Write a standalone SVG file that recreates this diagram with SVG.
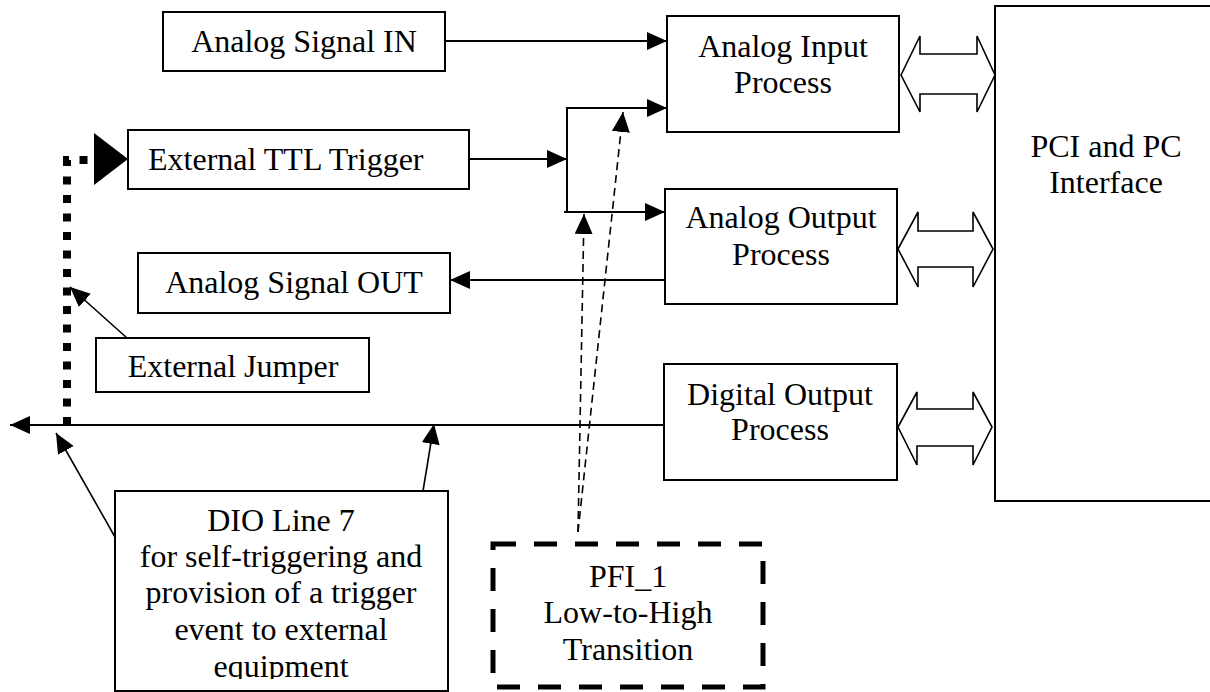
<svg xmlns="http://www.w3.org/2000/svg" width="1210" height="692" viewBox="0 0 1210 692">
  <defs>
    <style>
      .box { fill: #fff; stroke: #000; stroke-width: 2; }
      .dashbox { fill: #fff; stroke: #000; stroke-width: 5; stroke-dasharray: 23 18; }
      .lbl { font-family: "Liberation Serif", "Times New Roman", serif; font-size: 32px; fill: #000; }
      .mid { text-anchor: middle; }
      .wire { fill: none; stroke: #000; stroke-width: 2; }
      .thin { fill: none; stroke: #000; stroke-width: 1.6; }
      .dash { fill: none; stroke: #000; stroke-width: 1.6; stroke-dasharray: 8 5; }
      .dots { fill: none; stroke: #000; stroke-width: 8; stroke-dasharray: 8 10.5; }
      .bus { fill: #fff; stroke: #000; stroke-width: 1.6; stroke-linejoin: miter; }
    </style>
    <marker id="arr" markerUnits="userSpaceOnUse" markerWidth="22" markerHeight="20" refX="20" refY="9" orient="auto">
      <path d="M0,0 L20,9 L0,18 z" fill="#000"/>
    </marker>
    <clipPath id="dioClip">
      <rect x="115" y="491" width="333" height="188"/>
    </clipPath>
  </defs>

  <!-- connectors -->
  <g id="connectors">
    <path class="wire" d="M445,41 H667" marker-end="url(#arr)"/>
    <path class="wire" d="M469,159 H567" marker-end="url(#arr)"/>
    <path class="wire" d="M567,212 V108 H667" marker-end="url(#arr)"/>
    <path class="wire" d="M564,212 H665" marker-end="url(#arr)"/>
    <path class="wire" d="M665,280 H450" marker-end="url(#arr)"/>
    <path class="wire" d="M664,425 H10" marker-end="url(#arr)"/>
    <!-- external jumper loop -->
    <path class="dots" d="M67,425 V160 H95"/>
    <polygon points="94,133 128,159 94,185" fill="#000"/>
    <path class="thin" d="M127,338 L70,287" marker-end="url(#arr)"/>
    <path class="thin" d="M115,537 L56,433" marker-end="url(#arr)"/>
    <path class="thin" d="M423,491 L434,424" marker-end="url(#arr)"/>
    <path class="dash" d="M578,532 L623,112" marker-end="url(#arr)"/>
    <path class="dash" d="M578,532 L584,214" marker-end="url(#arr)"/>
    <!-- bus arrows to the PC interface -->
    <polygon class="bus" points="901,75 920,36 920,54 977,54 977,36 995,75 977,112 977,94 920,94 920,112"/>
    <polygon class="bus" points="898,249 918,212 918,231 973,231 973,212 993,249 973,287 973,267 918,267 918,287"/>
    <polygon class="bus" points="898,427 917,392 917,409 973,409 973,392 992,427 973,465 973,446 917,446 917,465"/>
  </g>

  <g id="analog-signal-in">
    <rect class="box" x="163" y="12" width="282" height="59"/>
    <text class="lbl mid" x="304" y="52">Analog Signal IN</text>
  </g>

  <g id="external-ttl-trigger">
    <rect class="box" x="128" y="130" width="341" height="59"/>
    <text class="lbl" x="148" y="170">External TTL Trigger</text>
  </g>

  <g id="analog-signal-out">
    <rect class="box" x="138" y="253" width="312" height="60"/>
    <text class="lbl mid" x="294" y="293">Analog Signal OUT</text>
  </g>

  <g id="external-jumper">
    <rect class="box" x="96" y="338" width="273" height="54"/>
    <text class="lbl mid" x="233" y="377">External Jumper</text>
  </g>

  <g id="dio-line-7">
    <rect class="box" x="115" y="491" width="333" height="200"/>
    <g clip-path="url(#dioClip)">
      <text class="lbl mid" x="281" y="531">DIO Line 7</text>
      <text class="lbl mid" x="281" y="567">for self-triggering and</text>
      <text class="lbl mid" x="281" y="603">provision of a trigger</text>
      <text class="lbl mid" x="281" y="640">event to external</text>
      <text class="lbl mid" x="281" y="677">equipment</text>
    </g>
  </g>

  <g id="pfi-1">
    <rect class="dashbox" x="493" y="544" width="270" height="143"/>
    <text class="lbl mid" x="628" y="587">PFI_1</text>
    <text class="lbl mid" x="628" y="623">Low-to-High</text>
    <text class="lbl mid" x="628" y="660">Transition</text>
  </g>

  <g id="analog-input-process">
    <rect class="box" x="667" y="16" width="232" height="116"/>
    <text class="lbl mid" x="783" y="57">Analog Input</text>
    <text class="lbl mid" x="783" y="93">Process</text>
  </g>

  <g id="analog-output-process">
    <rect class="box" x="665" y="189" width="232" height="115"/>
    <text class="lbl mid" x="781" y="228">Analog Output</text>
    <text class="lbl mid" x="781" y="265">Process</text>
  </g>

  <g id="digital-output-process">
    <rect class="box" x="664" y="364" width="233" height="116"/>
    <text class="lbl mid" x="780" y="405">Digital Output</text>
    <text class="lbl mid" x="780" y="440">Process</text>
  </g>

  <g id="pci-interface">
    <rect class="box" x="995" y="6" width="230" height="495"/>
    <text class="lbl mid" x="1106" y="157">PCI and PC</text>
    <text class="lbl mid" x="1106" y="193">Interface</text>
  </g>
</svg>
